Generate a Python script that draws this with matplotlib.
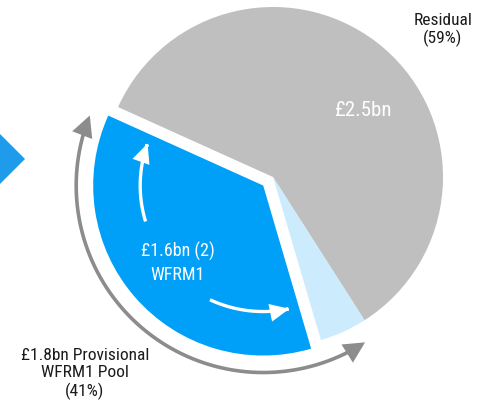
import numpy as np
import matplotlib
matplotlib.use("Agg")
import matplotlib.pyplot as plt
from matplotlib.patches import FancyArrowPatch, Polygon
from matplotlib.path import Path

# ---- data (shares) ----
categories = ["Residual", "Other WFRM1 pool", "WFRM1"]
shares = [59.2, 4.5, 36.3]
colors = ["#BFBFBF", "#CCEBFC", "#009FF8"]
slice_labels = ["£2.5bn", "", "£1.6bn (2)\nWFRM1"]
residual_note = "Residual\n(59%)"
pool_note = "£1.8bn Provisional\nWFRM1 Pool\n(41%)"

plt.rcParams["font.family"] = ["Roboto Condensed", "Liberation Sans", "DejaVu Sans"]

W, H = 489, 409
fig = plt.figure(figsize=(W / 100, H / 100), dpi=100)
ax = fig.add_axes([0, 0, 1, 1])

cx, cy, R = 273, 232, 170
start = 155.7
explode_px = 13
wedges, _ = ax.pie(shares, colors=colors, startangle=start, counterclock=False,
                   radius=R, center=(cx, cy), explode=[0, 0, explode_px],
                   wedgeprops=dict(linewidth=0), frame=True)
ax.set_xlim(0, W)
ax.set_ylim(0, H)
ax.set_aspect("equal")
ax.axis("off")

# blue slice centre (exploded)
blue_mid = np.deg2rad(start - 360 * (shares[0] + shares[1]) / 100 - 360 * shares[2] / 200)
bx = cx + explode_px * np.cos(blue_mid)
by = cy + explode_px * np.sin(blue_mid)


def arc_arrow(xc, yc, r, a1, a2, style, color, lw, hl, hw):
    t = np.deg2rad(np.linspace(a1, a2, 80))
    verts = np.column_stack([xc + r * np.cos(t), yc + r * np.sin(t)])
    arr = FancyArrowPatch(path=Path(verts),
                          arrowstyle=f"{style},head_length={hl},head_width={hw}",
                          color=color, lw=lw, shrinkA=0, shrinkB=0, joinstyle="miter",
                          capstyle="butt")
    ax.add_patch(arr)

# outer grey double arrow
arc_arrow(bx, by, 187, 158, 303, "<|-|>", "#8C8C8C", 2.6, 11, 5.6)
# inner white arrows
arc_arrow(bx, by, 123, 197, 160, "-|>", "white", 2.4, 10, 4.6)
arc_arrow(bx, by, 126, 245, 282, "-|>", "white", 2.4, 10, 4.6)

# blue chevron at left edge
ax.add_patch(Polygon([(0, H - 134), (25, H - 159), (0, H - 184)], closed=True,
                     facecolor="#1E9BEA", edgecolor="none"))

# texts
ax.text(363, H - 110, slice_labels[0], color="white", fontsize=15, ha="center", va="center")
ax.text(178, H - 263, slice_labels[2], color="white", fontsize=13, ha="center", va="center",
        linespacing=1.35)
ax.text(443, H - 30, residual_note, color="#1A1A1A", fontsize=12.5, ha="center", va="center",
        linespacing=1.2)
ax.text(85, H - 374, pool_note, color="#1A1A1A", fontsize=12.5, ha="center", va="center",
        linespacing=1.2)

fig.savefig("out.png", dpi=100)
